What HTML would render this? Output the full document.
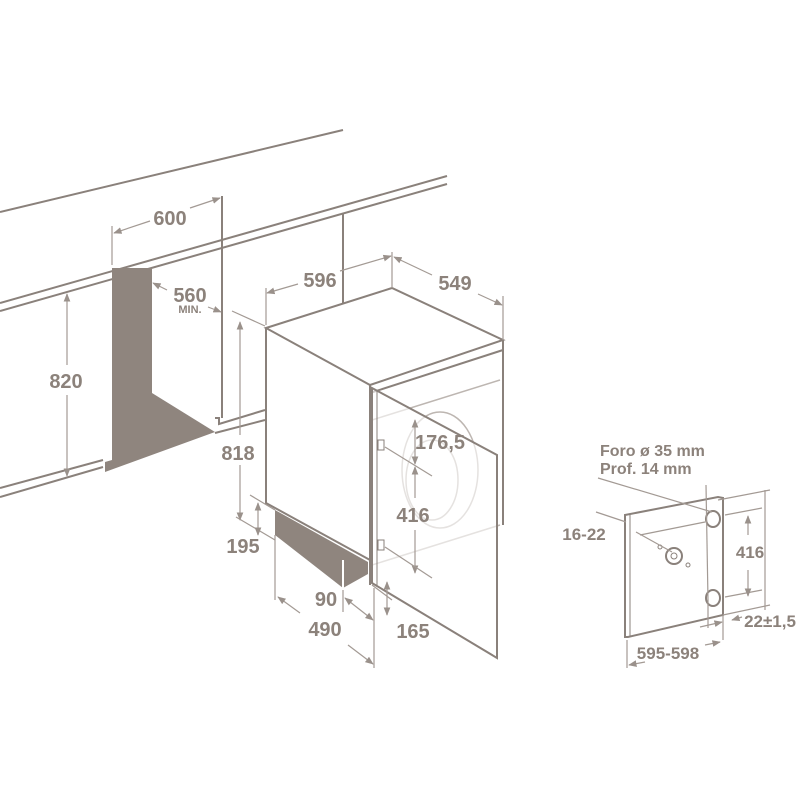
<!DOCTYPE html>
<html><head><style>
html,body{margin:0;padding:0;background:#fff;}
svg{display:block;}
text{font-family:"Liberation Sans",sans-serif;font-weight:bold;fill:#8c827b;}
</style></head><body>
<svg width="800" height="800" viewBox="0 0 800 800" xmlns="http://www.w3.org/2000/svg">
<defs>
<marker id="a" viewBox="0 0 10 10" refX="9" refY="5" markerWidth="7" markerHeight="7" orient="auto-start-reverse"><path d="M0,1 L10,5 L0,9 z" fill="#9a918b"/></marker>
</defs>
<g stroke="#8a817b" stroke-width="2" fill="none">
<!-- counter -->
<line x1="0" y1="212" x2="343" y2="130"/>
<line x1="0" y1="303" x2="447" y2="176"/>
<line x1="0" y1="311" x2="447" y2="184"/>
<line x1="222" y1="196" x2="222" y2="418"/>
<line x1="343" y1="214" x2="343" y2="303"/>
<!-- floor/shelf -->
<line x1="0" y1="497" x2="103" y2="467"/>
<line x1="0" y1="488" x2="103" y2="460"/>
<polyline points="215,418 219,418 219,424 265,410"/>
<line x1="215" y1="433" x2="265" y2="420"/>
<!-- machine -->
<polygon points="266,328 392,288 503,340 370,385" fill="#fff"/>
<polyline points="266,328 266,503 370,560"/>
<line x1="370" y1="385" x2="370" y2="585"/>
<line x1="370" y1="393" x2="503" y2="350"/>
<line x1="503" y1="340" x2="503" y2="525"/>
</g>
<polygon points="112,268 152,268 152,393 215,432 105,472 105,462 112,460" fill="#8f857e"/>
<polygon points="275,510 368,562 368,574 343,588 275,535" fill="#8f857e"/>
<line x1="343" y1="560" x2="343" y2="590" stroke="#fff" stroke-width="2"/>
<g stroke="#bdb6b1" stroke-width="1.5" fill="none">
<ellipse cx="440" cy="470" rx="38" ry="58"/>
<ellipse cx="432" cy="480" rx="26" ry="40"/>
<line x1="372" y1="420" x2="500" y2="380"/>
<line x1="372" y1="565" x2="500" y2="525"/>
</g>
<!-- door -->
<g stroke="#8a817b" stroke-width="2" fill="none">
<polygon points="372,388 497,455 497,658 372,583" fill="rgba(255,255,255,0.6)"/>
<line x1="377" y1="391" x2="377" y2="586" stroke-width="1"/>
<line x1="377" y1="586" x2="493" y2="655" stroke-width="1"/>
<rect x="378" y="440" width="6" height="10" stroke-width="1"/>
<rect x="378" y="540" width="6" height="10" stroke-width="1"/>
</g>
<!-- right panel -->
<g stroke="#8a817b" stroke-width="2" fill="#fff">
<polygon points="625,515 718,497 723,498 723,615 628,637 625,637"/>
<line x1="630" y1="515" x2="630" y2="637" stroke-width="1"/>
<ellipse cx="713" cy="519" rx="7" ry="8"/>
<ellipse cx="713" cy="598" rx="7" ry="8"/>
<circle cx="674" cy="556" r="8"/>
<circle cx="674" cy="556" r="3" stroke-width="1"/>
<circle cx="660" cy="547" r="2" stroke-width="1"/>
<circle cx="688" cy="565" r="2" stroke-width="1"/>
</g>
<!-- dimension lines -->
<g stroke="#a39a94" stroke-width="1.2" fill="none">
<line x1="112" y1="226" x2="112" y2="265"/>
<line x1="114" y1="233" x2="150" y2="221" marker-start="url(#a)"/>
<line x1="190" y1="208" x2="220" y2="198" marker-end="url(#a)"/>
<line x1="153" y1="283" x2="167" y2="290" marker-start="url(#a)"/>
<line x1="208" y1="307" x2="221" y2="312" marker-end="url(#a)"/>
<line x1="67" y1="294" x2="67" y2="365" marker-start="url(#a)"/>
<line x1="67" y1="395" x2="67" y2="476" marker-end="url(#a)"/>
<line x1="232" y1="311" x2="265" y2="326"/>
<line x1="240" y1="322" x2="240" y2="435" marker-start="url(#a)"/>
<line x1="240" y1="465" x2="240" y2="520" marker-end="url(#a)"/>
<line x1="266" y1="288" x2="266" y2="325"/>
<line x1="392" y1="252" x2="392" y2="288"/>
<line x1="267" y1="293" x2="298" y2="284" marker-start="url(#a)"/>
<line x1="340" y1="271" x2="391" y2="256" marker-end="url(#a)"/>
<line x1="394" y1="257" x2="432" y2="275" marker-start="url(#a)"/>
<line x1="478" y1="294" x2="502" y2="305" marker-end="url(#a)"/>
<line x1="503" y1="296" x2="503" y2="340"/>
<line x1="415" y1="420" x2="415" y2="464" marker-start="url(#a)" marker-end="url(#a)"/>
<line x1="415" y1="467" x2="415" y2="498" marker-start="url(#a)"/>
<line x1="415" y1="530" x2="415" y2="573" marker-end="url(#a)"/>
<line x1="385" y1="447" x2="432" y2="476"/>
<line x1="385" y1="547" x2="432" y2="578"/>
<line x1="250" y1="495" x2="275" y2="510"/>
<line x1="236" y1="517" x2="275" y2="540"/>
<line x1="258" y1="503" x2="258" y2="535" marker-start="url(#a)" marker-end="url(#a)"/>
<line x1="275" y1="535" x2="275" y2="600"/>
<line x1="374" y1="588" x2="374" y2="668"/>
<line x1="343" y1="590" x2="343" y2="612"/>
<line x1="345" y1="598" x2="373" y2="620" marker-start="url(#a)" marker-end="url(#a)"/>
<line x1="278" y1="597" x2="300" y2="613" marker-start="url(#a)"/>
<line x1="348" y1="645" x2="373" y2="664" marker-end="url(#a)"/>
<line x1="387" y1="582" x2="387" y2="615" marker-start="url(#a)" marker-end="url(#a)"/>
<line x1="372" y1="585" x2="392" y2="600"/>
<!-- right panel dims -->
<line x1="598" y1="478" x2="712" y2="512"/>
<line x1="640" y1="535" x2="705" y2="522"/>
<line x1="636" y1="532" x2="672" y2="552"/>
<line x1="706" y1="485" x2="708" y2="600"/>
<line x1="718" y1="500" x2="770" y2="490"/>
<line x1="725" y1="515" x2="762" y2="508"/>
<line x1="725" y1="597" x2="762" y2="590"/>
<line x1="723" y1="615" x2="770" y2="605"/>
<line x1="765" y1="490" x2="765" y2="610"/>
<line x1="748" y1="516" x2="748" y2="535" marker-start="url(#a)"/>
<line x1="748" y1="570" x2="748" y2="596" marker-end="url(#a)"/>
<line x1="708" y1="600" x2="708" y2="628"/>
<line x1="723" y1="615" x2="723" y2="630"/>
<line x1="700" y1="627" x2="722" y2="622" marker-end="url(#a)"/>
<line x1="732" y1="620" x2="742" y2="617" marker-start="url(#a)"/>
<line x1="627" y1="640" x2="627" y2="668"/>
<line x1="723" y1="630" x2="723" y2="640"/>
<line x1="629" y1="665" x2="645" y2="662" marker-start="url(#a)"/>
<line x1="705" y1="645" x2="720" y2="642" marker-end="url(#a)"/>
<line x1="596" y1="512" x2="626" y2="522"/>
</g>
<!-- labels -->
<g font-size="20" text-anchor="middle">
<text x="170" y="225">600</text>
<text x="190" y="302">560</text>
<text x="190" y="313" font-size="11">MIN.</text>
<text x="66" y="388">820</text>
<text x="238" y="460">818</text>
<text x="320" y="287">596</text>
<text x="455" y="290">549</text>
<text x="440" y="449">176,5</text>
<text x="413" y="522">416</text>
<text x="243" y="553">195</text>
<text x="326" y="606">90</text>
<text x="325" y="636">490</text>
<text x="413" y="638">165</text>
</g>
<g font-size="16" text-anchor="start">
<text x="600" y="456">Foro ø 35 mm</text>
<text x="600" y="474">Prof. 14 mm</text>
</g>
<g font-size="17" text-anchor="middle">
<text x="584" y="540">16-22</text>
<text x="750" y="558">416</text>
<text x="770" y="627">22±1,5</text>
<text x="668" y="659">595-598</text>
</g>
</svg>
</body></html>
